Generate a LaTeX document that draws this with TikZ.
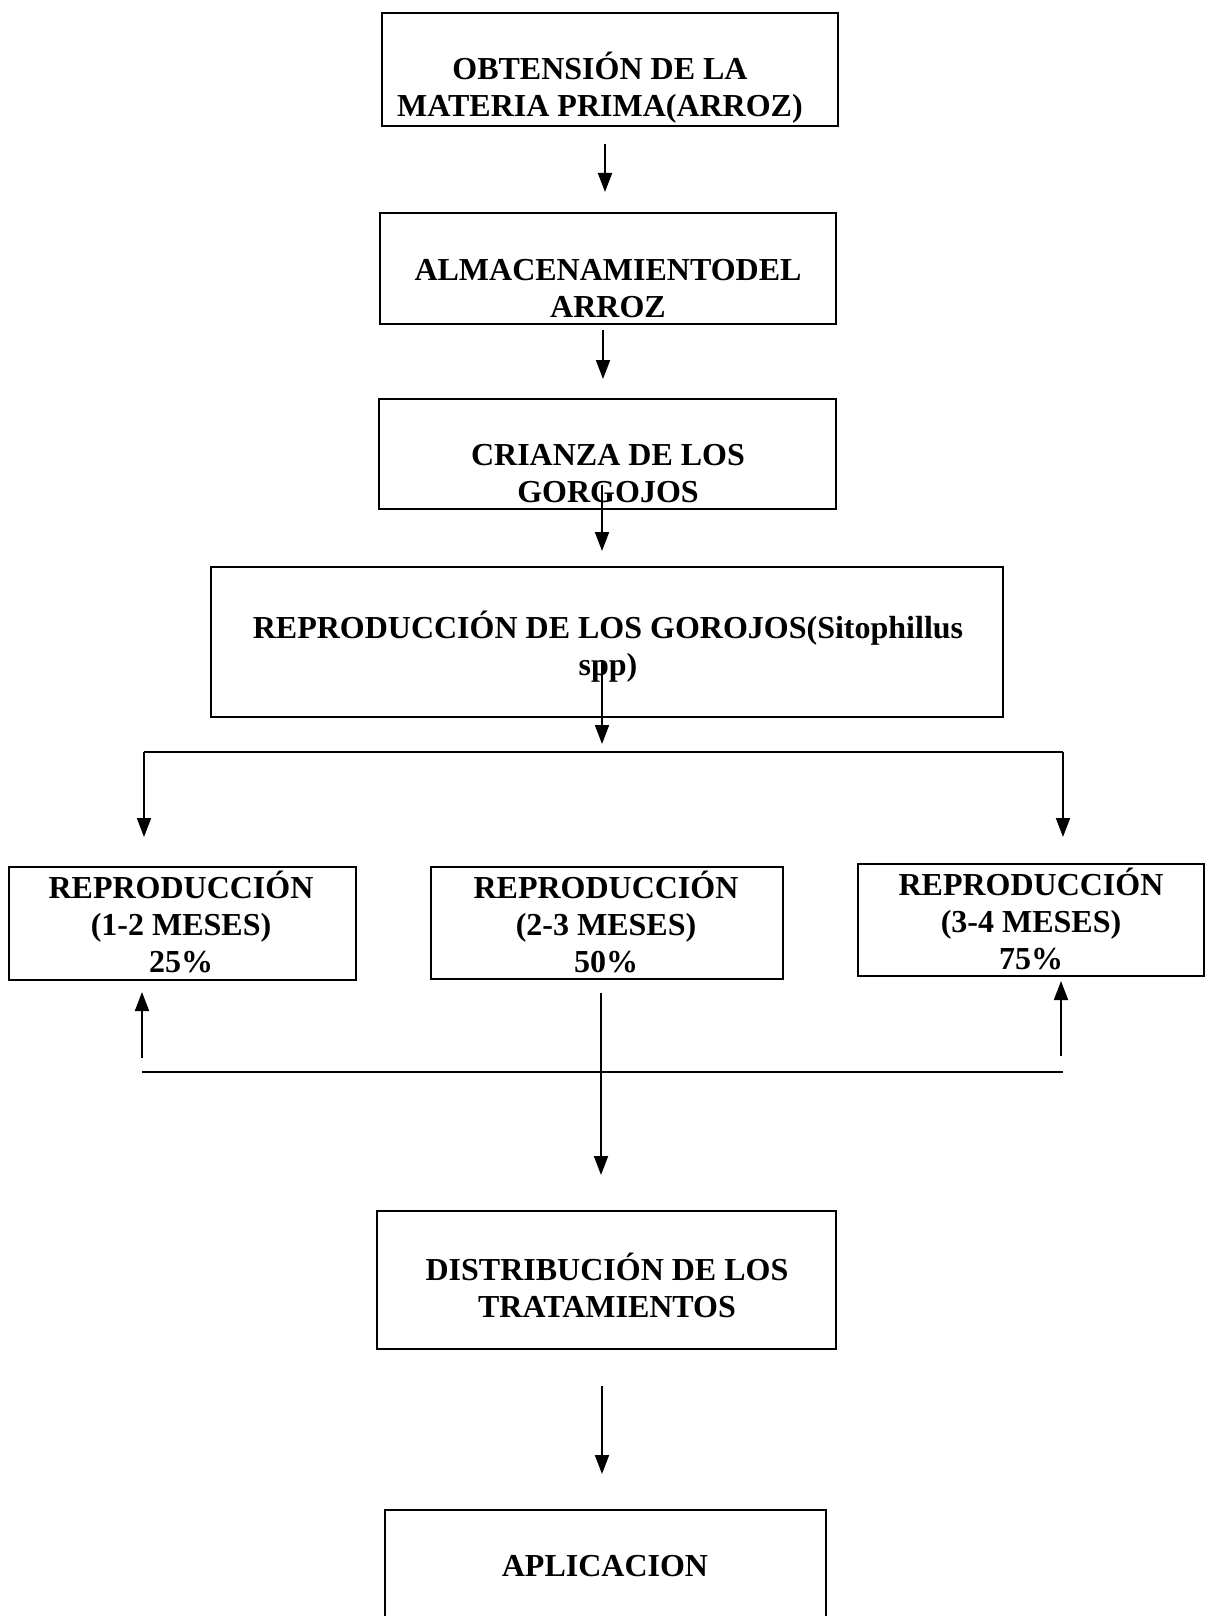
\documentclass[tikz,border=0pt]{standalone}
\usepackage{fontspec}
\setmainfont{Liberation Serif}
\usetikzlibrary{arrows.meta}
\begin{document}
\begin{tikzpicture}[x=1pt,y=-1pt,
  box/.style={draw, line width=1.4pt, inner sep=0pt},
  txt/.style={font=\fontsize{32}{37}\selectfont\bfseries, align=center, inner sep=0pt},
  arr/.style={line width=1.9pt, -{Triangle[width=14pt,length=19pt]}},
  ln/.style={line width=1.9pt}]
\clip (0,0) rectangle (1207,1616);
\fill[white] (0,0) rectangle (1207,1616);
% boxes
\node[box, minimum width=456pt, minimum height=113pt] (b1) at (610,69.5) {};
\node[box, minimum width=456pt, minimum height=111pt] (b2) at (608,268.5) {};
\node[box, minimum width=457pt, minimum height=110pt] (b3) at (607.5,454) {};
\node[box, minimum width=792pt, minimum height=150pt] (b4) at (607,642) {};
\node[box, minimum width=347pt, minimum height=113pt] (b5) at (182.5,923.5) {};
\node[box, minimum width=352pt, minimum height=112pt] (b6) at (607,923) {};
\node[box, minimum width=346pt, minimum height=112pt] (b7) at (1031,920) {};
\node[box, minimum width=459pt, minimum height=138pt] (b8) at (606.5,1280) {};
\node[box, minimum width=441pt, minimum height=150pt] (b9) at (605.5,1585) {};
% texts
\node[txt] (t1) at (600,88) {OBTENSIÓN DE LA\\MATERIA PRIMA(ARROZ)};
\node[txt] (t2) at (608,289) {ALMACENAMIENTODEL\\ARROZ};
\node[txt] (t3) at (608,474) {CRIANZA DE LOS\\GORGOJOS};
\node[txt] (t4) at (608,647) {REPRODUCCIÓN DE LOS GOROJOS(Sitophillus\\spp)};
\node[txt] (t5) at (181,922) {REPRODUCCIÓN\\(1-2 MESES)\\25\%};
\node[txt] (t6) at (606,922) {REPRODUCCIÓN\\(2-3 MESES)\\50\%};
\node[txt] (t7) at (1031,919) {REPRODUCCIÓN\\(3-4 MESES)\\75\%};
\node[txt] (t8) at (607,1285) {DISTRIBUCIÓN DE LOS\\TRATAMIENTOS};
\node[txt] (t9) at (605,1566) {APLICACION};
% connector coordinates
\coordinate (a1s) at (605,144); \coordinate (a1e) at (605,192);
\coordinate (a2s) at (603,330); \coordinate (a2e) at (603,379);
\coordinate (a3s) at (602,485); \coordinate (a3e) at (602,551);
\coordinate (a4s) at (602,660); \coordinate (a4e) at (602,744);
\coordinate (hl) at (144,752); \coordinate (hr) at (1063,752);
\coordinate (dl) at (144,837); \coordinate (dr) at (1063,837);
\coordinate (ul) at (142,1072); \coordinate (ur) at (1063,1072);
\coordinate (uls) at (142,1058); \coordinate (ule) at (142,992);
\coordinate (urs) at (1061,1056); \coordinate (ure) at (1061,981);
\coordinate (ms) at (601,993); \coordinate (me) at (601,1175);
\coordinate (a8s) at (602,1386); \coordinate (a8e) at (602,1474);
% connectors
\draw[arr] (a1s) -- (a1e);
\draw[arr] (a2s) -- (a2e);
\draw[arr] (a3s) -- (a3e);
\draw[arr] (a4s) -- (a4e);
\draw[ln] (hl) -- (hr);
\draw[arr] (hl) -- (dl);
\draw[arr] (hr) -- (dr);
\draw[ln] (ul) -- (ur);
\draw[arr] (uls) -- (ule);
\draw[arr] (urs) -- (ure);
\draw[arr] (ms) -- (me);
\draw[arr] (a8s) -- (a8e);
\end{tikzpicture}
\end{document}
